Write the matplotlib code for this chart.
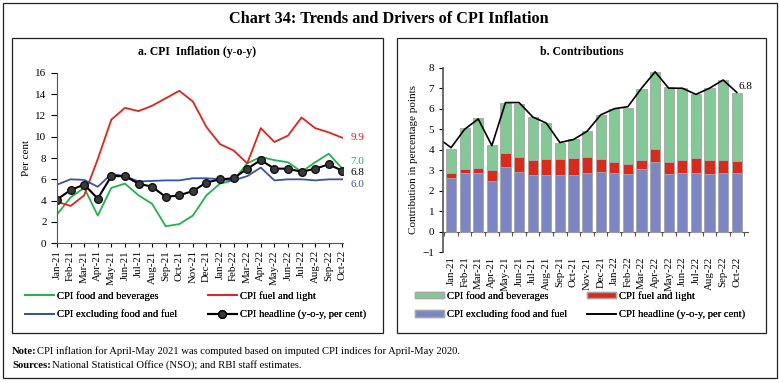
import matplotlib
matplotlib.use('Agg')
import matplotlib.pyplot as plt
from matplotlib.patches import Rectangle
from matplotlib.lines import Line2D
from matplotlib.patches import Patch
import numpy as np

plt.rcParams['font.family'] = ['Liberation Serif', 'DejaVu Serif']

months = ['Jan-21', 'Feb-21', 'Mar-21', 'Apr-21', 'May-21', 'Jun-21', 'Jul-21', 'Aug-21',
          'Sep-21', 'Oct-21', 'Nov-21', 'Dec-21', 'Jan-22', 'Feb-22', 'Mar-22', 'Apr-22',
          'May-22', 'Jun-22', 'Jul-22', 'Aug-22', 'Sep-22', 'Oct-22']

# panel a: y-o-y inflation (per cent)
food = [2.7, 4.3, 5.2, 2.6, 5.2, 5.6, 4.5, 3.7, 1.6, 1.8, 2.6, 4.5,
        5.6, 5.9, 7.5, 8.1, 7.8, 7.6, 6.7, 7.6, 8.4, 7.0]
fuel = [3.9, 3.5, 4.5, 7.9, 11.6, 12.7, 12.4, 12.9, 13.6, 14.3, 13.3, 10.9,
        9.3, 8.7, 7.5, 10.8, 9.5, 10.1, 11.8, 10.8, 10.4, 9.9]
core = [5.5, 6.0, 5.95, 5.3, 6.5, 6.3, 5.8, 5.85, 5.9, 5.9, 6.1, 6.1,
        6.0, 5.9, 6.3, 7.1, 5.9, 6.0, 6.0, 5.9, 6.0, 6.0]
headline = [4.1, 5.0, 5.5, 4.2, 6.3, 6.3, 5.6, 5.3, 4.35, 4.5, 4.9, 5.7,
            6.0, 6.1, 7.0, 7.8, 7.0, 7.0, 6.7, 7.0, 7.4, 6.8]
headline_dec20 = 4.6

# panel b: contributions (percentage points)
contrib_core = [2.6, 2.85, 2.85, 2.5, 3.15, 2.9, 2.75, 2.75, 2.75, 2.75, 2.85, 2.9,
                2.85, 2.8, 3.05, 3.4, 2.8, 2.85, 2.85, 2.8, 2.85, 2.85]
contrib_fuel = [0.25, 0.2, 0.25, 0.5, 0.7, 0.75, 0.75, 0.8, 0.8, 0.85, 0.8, 0.65,
                0.55, 0.5, 0.45, 0.65, 0.6, 0.65, 0.75, 0.7, 0.65, 0.6]
contrib_total = [4.05, 5.05, 5.55, 4.25, 6.3, 6.25, 5.6, 5.3, 4.35, 4.5, 4.9, 5.7,
                 6.0, 6.05, 6.95, 7.8, 7.05, 7.0, 6.7, 7.0, 7.4, 6.75]

labels = ['CPI food and beverages', 'CPI fuel and light', 'CPI excluding food and fuel',
          'CPI headline (y-o-y, per cent)']

W, H = 779, 383
fig = plt.figure(figsize=(W / 100, H / 100), dpi=100)

def box(x0, y0, x1, y1):
    fig.patches.append(Rectangle((x0 / W, 1 - y1 / H), (x1 - x0) / W, (y1 - y0) / H,
                                 transform=fig.transFigure, fill=False,
                                 edgecolor='#222222', linewidth=0.9))

def legend_col(handles, names, xpx, ypx):
    lg = fig.legend(handles, names, loc='upper left', bbox_to_anchor=(xpx / W, 1 - ypx / H),
                    frameon=False, fontsize=7.7, handlelength=2.7, handleheight=0.6,
                    labelspacing=0.85, handletextpad=0.3, borderaxespad=0, borderpad=0)
    fig.add_artist(lg)

box(3, 3, 777, 378)
box(12, 38, 383, 333)
box(397, 38, 766, 333)

fig.text(389 / W, 1 - 19 / H, 'Chart 34: Trends and Drivers of CPI Inflation',
         ha='center', va='center', fontsize=11.7, fontweight='bold')
fig.text(197 / W, 1 - 52 / H, 'a. CPI  Inflation (y-o-y)', ha='center', va='center',
         fontsize=8.5, fontweight='bold')
fig.text(582 / W, 1 - 52 / H, 'b. Contributions', ha='center', va='center',
         fontsize=8.5, fontweight='bold')
fig.text(12 / W, 1 - 351 / H, 'Note:', ha='left', va='center', fontsize=7.7, fontweight='bold')
fig.text(37 / W, 1 - 351 / H,
         'CPI inflation for April-May 2021 was computed based on imputed CPI indices for April-May 2020.',
         ha='left', va='center', fontsize=7.7)
fig.text(12 / W, 1 - 365 / H, 'Sources:', ha='left', va='center', fontsize=7.7, fontweight='bold')
fig.text(52 / W, 1 - 365 / H, 'National Statistical Office (NSO); and RBI staff estimates.',
         ha='left', va='center', fontsize=7.7)

x = np.arange(len(months))

# ---------------- panel a
c_food, c_fuel, c_core = '#1fb44b', '#e2231a', '#3953a4'
ax1 = fig.add_axes([57 / W, 1 - 243.3 / H, 286 / W, 170.6 / H])
ax1.plot(x, food, color=c_food, lw=1.3)
ax1.plot(x, fuel, color=c_fuel, lw=1.3)
ax1.plot(x, core, color=c_core, lw=1.3)
ax1.plot(x, headline, color='black', lw=1.5, marker='o', ms=5.5,
         markerfacecolor='#3a3a3a', markeredgecolor='#111111')
ax1.set_xlim(0, 21.05)
ax1.set_ylim(0, 16)
ax1.set_yticks(range(0, 17, 2))
ax1.set_xticks(x)
ax1.set_xticklabels(months, rotation=90, fontsize=7.8)
ax1.tick_params(axis='y', labelsize=8, length=4, width=0.8)
ax1.tick_params(axis='x', length=3, width=0.8, pad=2)
for s in ['top', 'right']:
    ax1.spines[s].set_visible(False)
ax1.spines['left'].set_color('#555555')
ax1.spines['bottom'].set_color('#555555')
ax1.set_ylabel('Per cent', fontsize=8, labelpad=3)
ax1.text(21.6, 9.9, f'{fuel[-1]:.1f}', color=c_fuel, fontsize=8, va='center', clip_on=False)
ax1.text(21.6, 7.65, f'{food[-1]:.1f}', color=c_food, fontsize=8, va='center', clip_on=False)
ax1.text(21.6, 6.6, f'{headline[-1]:.1f}', color='black', fontsize=8, va='center', clip_on=False)
ax1.text(21.6, 5.55, f'{core[-1]:.1f}', color=c_core, fontsize=8, va='center', clip_on=False)

h1 = [Line2D([], [], color=c_food, lw=1.3), Line2D([], [], color=c_fuel, lw=1.3),
      Line2D([], [], color=c_core, lw=1.3),
      Line2D([], [], color='black', lw=1.5, marker='o', ms=5.5, markerfacecolor='#3a3a3a')]
legend_col([h1[0], h1[2]], [labels[0], labels[2]], 25, 291)
legend_col([h1[1], h1[3]], [labels[1], labels[3]], 208, 291)

# ---------------- panel b
g_col, r_col, b_col = '#82c995', '#d92a1c', '#7d86c4'
edge = '#a6a6a6'
contrib_food = [t - c - f for t, c, f in zip(contrib_total, contrib_core, contrib_fuel)]
ax2 = fig.add_axes([443.3 / W, 1 - 252.3 / H, 305 / W, 184.6 / H])
bw = 0.74
ax2.bar(x, contrib_core, bw, color=b_col, edgecolor=edge, linewidth=0.6)
ax2.bar(x, contrib_fuel, bw, bottom=contrib_core, color=r_col, edgecolor=edge, linewidth=0.6)
ax2.bar(x, contrib_food, bw, bottom=np.array(contrib_core) + np.array(contrib_fuel),
        color=g_col, edgecolor=edge, linewidth=0.6)
ax2.plot(np.r_[-1, x], [headline_dec20] + headline, color='black', lw=1.2)
ax2.set_xlim(-0.57, 21.85)
ax2.set_ylim(-1, 8)
ax2.set_yticks(range(-1, 9))
ax2.set_xticks(x)
ax2.set_xticklabels(months, rotation=90, fontsize=7.8)
ax2.tick_params(axis='x', length=0, pad=3)
ax2.tick_params(axis='y', labelsize=8, length=3, width=0.8)
for s in ['top', 'right', 'bottom']:
    ax2.spines[s].set_visible(False)
ax2.spines['left'].set_color('#555555')
ax2.spines['left'].set_linewidth(1.2)
sec = ax2.secondary_xaxis(1 / 9)
sec.set_xticks(np.arange(-0.5, 22, 1))
sec.set_xticklabels([])
sec.tick_params(length=3, width=0.8, direction='out', color='#555555')
sec.spines['bottom'].set_color('#555555')
ax2.set_ylabel('Contribution in percentage points', fontsize=8, labelpad=3)
ax2.text(21.15, 7.1, f'{headline[-1]:.1f}', fontsize=8, va='center', clip_on=False)

h2 = [Patch(facecolor=g_col, edgecolor=edge), Patch(facecolor=b_col, edgecolor=edge),
      Patch(facecolor=r_col, edgecolor=edge), Line2D([], [], color='black', lw=1.2)]
legend_col([h2[0], h2[1]], [labels[0], labels[2]], 415, 291)
legend_col([h2[2], h2[3]], [labels[1], labels[3]], 587, 291)

fig.savefig('out.png', dpi=100)
